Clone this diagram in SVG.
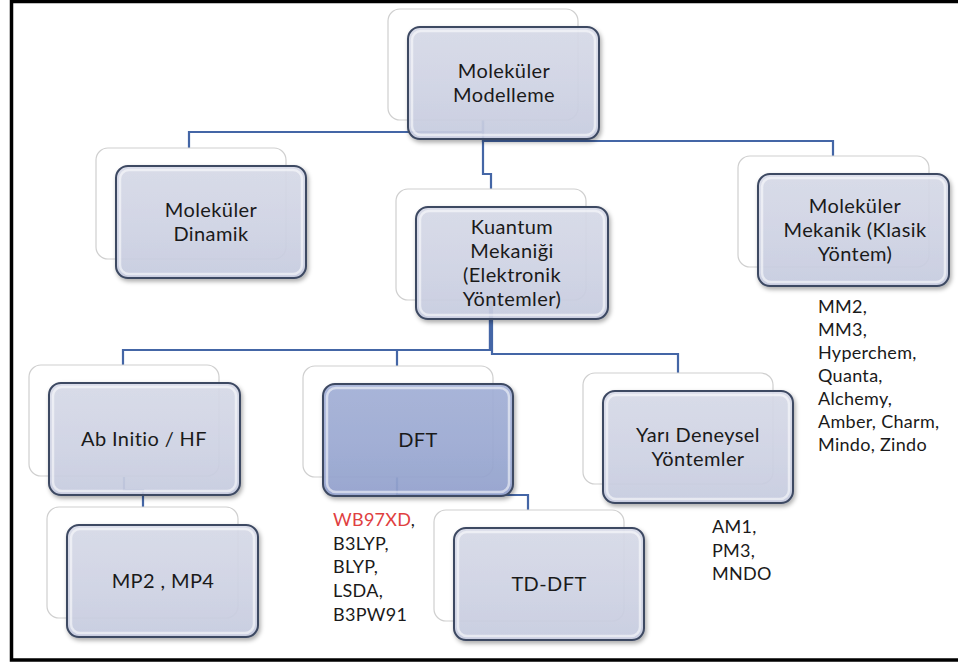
<svg xmlns="http://www.w3.org/2000/svg" width="958" height="664" viewBox="0 0 958 664">
<defs>
<linearGradient id="gf" x1="0" y1="0" x2="0" y2="1">
<stop offset="0" stop-color="#d9dcea"/>
<stop offset="0.5" stop-color="#d2d6e7"/>
<stop offset="1" stop-color="#c9cee2"/>
</linearGradient>
<linearGradient id="gd" x1="0" y1="0" x2="0" y2="1">
<stop offset="0" stop-color="#a5b2d9"/>
<stop offset="0.5" stop-color="#9eacd5"/>
<stop offset="1" stop-color="#94a3cf"/>
</linearGradient>
<filter id="ds" x="-10%" y="-10%" width="125%" height="130%">
<feDropShadow dx="1.5" dy="2.5" stdDeviation="2" flood-color="#000" flood-opacity="0.35"/>
</filter>
</defs>
<style>
.back{fill:#fff;stroke:#cfcfcf;stroke-width:1.2}
.front{fill:url(#gf);fill-opacity:0.9;stroke:#3c4862;stroke-width:2;filter:url(#ds)}
.front.dft{fill:url(#gd)}
.hl{fill:none;stroke:#fff;stroke-opacity:0.55;stroke-width:2.5}
.t{font-family:Lato,"Open Sans","Liberation Sans",sans-serif;font-size:20px;letter-spacing:0.4px;fill:#1a1a1a;text-anchor:middle}
.l{font-family:Lato,"Open Sans","Liberation Sans",sans-serif;font-size:18px;letter-spacing:0.3px;fill:#1a1a1a}
.c{fill:none;stroke:#4466a6;stroke-width:2.2}
</style>
<rect x="0" y="0" width="958" height="664" fill="#fff"/>
<rect x="11.5" y="1.5" width="960" height="658.5" fill="none" stroke="#000" stroke-width="3.5"/>

<g id="connectors">
<path class="c" d="M483 120 V132 H189 V148"/>
<path class="c" d="M483 120 V141 H833 V156"/>
<path class="c" d="M483 120 V174 H491 V189"/>
<path class="c" d="M490 300 V350 H123 V365"/>
<path class="c" d="M490 300 V350 H397 V366"/>
<path class="c" d="M492 300 V354 H678 V373"/>
<path class="c" d="M124 477 V490 H143 V507"/>
<path class="c" d="M397 477 V495 H528 V510"/>
</g>

<g id="n-modelleme">
<rect class="back" x="388" y="9" width="190" height="111" rx="12"/>
<rect class="front" x="408" y="27" width="191" height="112" rx="12"/>
<rect class="hl" x="412" y="31" width="183" height="104" rx="9"/>
<text class="t" x="504" y="78">Moleküler</text>
<text class="t" x="504" y="102">Modelleme</text>
</g>

<g id="n-dinamik">
<rect class="back" x="96" y="148" width="190" height="111" rx="12"/>
<rect class="front" x="116" y="166" width="190" height="112" rx="12"/>
<rect class="hl" x="120" y="170" width="182" height="104" rx="9"/>
<text class="t" x="211" y="217">Moleküler</text>
<text class="t" x="211" y="241">Dinamik</text>
</g>

<g id="n-kuantum">
<rect class="back" x="396" y="189" width="190" height="111" rx="12"/>
<rect class="front" x="416" y="207" width="192" height="112" rx="12"/>
<rect class="hl" x="420" y="211" width="184" height="104" rx="9"/>
<text class="t" x="512" y="234">Kuantum</text>
<text class="t" x="512" y="258">Mekaniği</text>
<text class="t" x="512" y="282">(Elektronik</text>
<text class="t" x="512" y="306">Yöntemler)</text>
</g>

<g id="n-mekanik">
<rect class="back" x="738" y="156" width="191" height="111" rx="12"/>
<rect class="front" x="758" y="174" width="191" height="112" rx="12"/>
<rect class="hl" x="762" y="178" width="183" height="104" rx="9"/>
<text class="t" x="855" y="213">Moleküler</text>
<text class="t" x="855" y="237">Mekanik (Klasik</text>
<text class="t" x="855" y="261">Yöntem)</text>
</g>
<g id="list-mekanik">
<text class="l" x="818" y="313">MM2,</text>
<text class="l" x="818" y="336">MM3,</text>
<text class="l" x="818" y="359">Hyperchem,</text>
<text class="l" x="818" y="382">Quanta,</text>
<text class="l" x="818" y="405">Alchemy,</text>
<text class="l" x="818" y="428">Amber, Charm,</text>
<text class="l" x="818" y="451">Mindo, Zindo</text>
</g>

<g id="n-abinitio">
<rect class="back" x="29" y="365" width="190" height="111" rx="12"/>
<rect class="front" x="49" y="383" width="191" height="112" rx="12"/>
<rect class="hl" x="53" y="387" width="183" height="104" rx="9"/>
<text class="t" x="144" y="446">Ab Initio / HF</text>
</g>

<g id="n-dft">
<rect class="back" x="303" y="366" width="190" height="111" rx="12"/>
<rect class="front dft" x="323" y="384" width="190" height="112" rx="12"/>
<rect class="hl" x="327" y="388" width="182" height="104" rx="9"/>
<text class="t" x="418" y="447">DFT</text>
</g>
<g id="list-dft">
<text class="l" x="333" y="526"><tspan fill="#e0403f">WB97XD</tspan>,</text>
<text class="l" x="333" y="550">B3LYP,</text>
<text class="l" x="333" y="573">BLYP,</text>
<text class="l" x="333" y="597">LSDA,</text>
<text class="l" x="333" y="621">B3PW91</text>
</g>

<g id="n-yari">
<rect class="back" x="583" y="373" width="190" height="111" rx="12"/>
<rect class="front" x="603" y="391" width="190" height="112" rx="12"/>
<rect class="hl" x="607" y="395" width="182" height="104" rx="9"/>
<text class="t" x="698" y="442">Yarı Deneysel</text>
<text class="t" x="698" y="466">Yöntemler</text>
</g>
<g id="list-yari">
<text class="l" x="712" y="533">AM1,</text>
<text class="l" x="712" y="557">PM3,</text>
<text class="l" x="712" y="580">MNDO</text>
</g>

<g id="n-mp">
<rect class="back" x="47" y="507" width="191" height="111" rx="12"/>
<rect class="front" x="67" y="525" width="191" height="112" rx="12"/>
<rect class="hl" x="71" y="529" width="183" height="104" rx="9"/>
<text class="t" x="163" y="588">MP2 , MP4</text>
</g>

<g id="n-tddft">
<rect class="back" x="434" y="510" width="190" height="111" rx="12"/>
<rect class="front" x="454" y="528" width="190" height="112" rx="12"/>
<rect class="hl" x="458" y="532" width="182" height="104" rx="9"/>
<text class="t" x="549" y="591">TD-DFT</text>
</g>
</svg>
